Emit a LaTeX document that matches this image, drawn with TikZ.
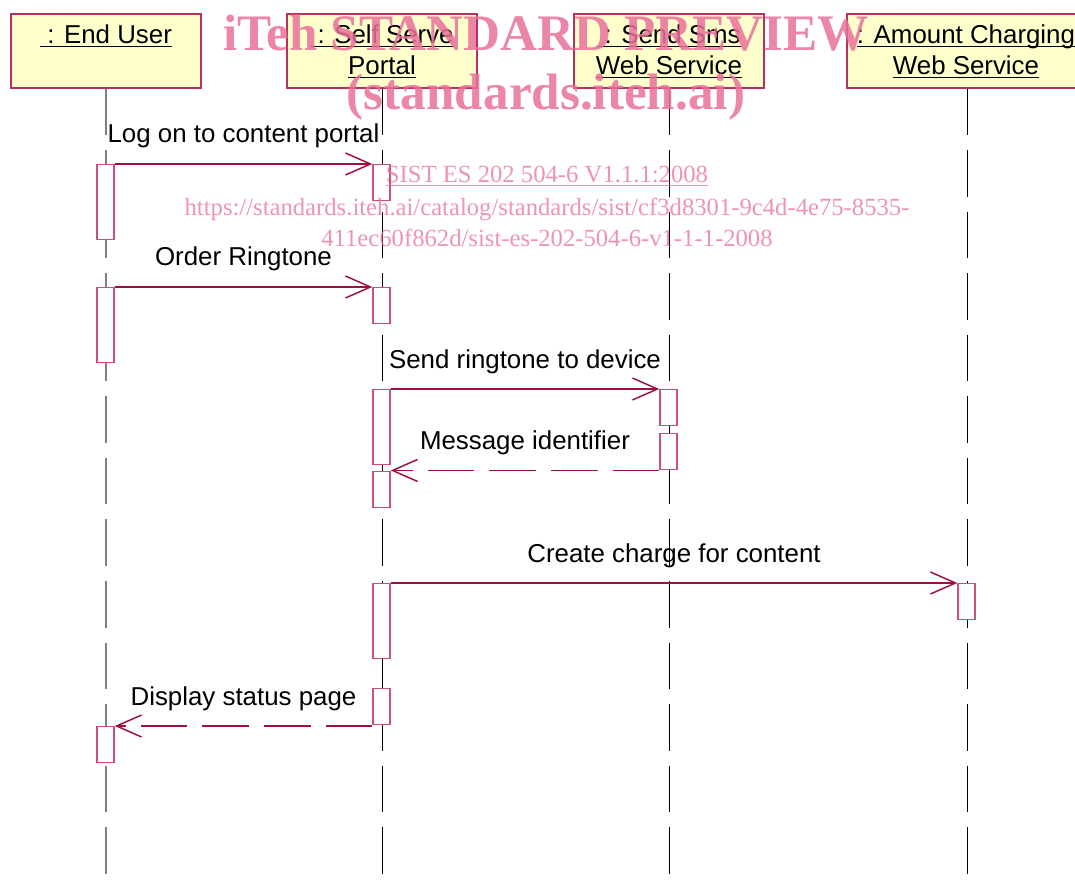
\documentclass[tikz,border=0pt]{standalone}
\usepackage{fontspec}
\setmainfont{Liberation Sans}
\newfontfamily\wmfont{Liberation Serif}
\usetikzlibrary{arrows.meta}

\definecolor{boxfill}{HTML}{FFFFCC}
\definecolor{boxline}{HTML}{B83060}
\definecolor{msgline}{HTML}{A0103C}
\definecolor{actline}{HTML}{C8507A}
\definecolor{lifegray}{HTML}{808080}
\definecolor{wmpink}{HTML}{E8709A}

% header names are underlined straight through the descenders
\newcommand\hdul[1]{\underline{\smash{#1}}}

\tikzset{
	every node/.style={font=\fontsize{19.4}{23}\selectfont},
	head/.style={draw=boxline, line width=1.1pt, fill=boxfill, minimum width=142.5pt, minimum height=55.5pt, inner sep=0pt},
	headtxt/.style={anchor=base, inner sep=0pt},
	lifeline/.style={black, line width=0.75pt, dash pattern=on 34.9pt off 11.25pt},
	act/.style={draw=actline, line width=1.1pt, fill=white, anchor=north, minimum width=12.75pt, inner sep=0pt},
	actlong/.style={act, minimum height=55.9pt},
	actshort/.style={act, minimum height=27pt},
	msg/.style={msgline, line width=1.1pt, -{Straight Barb[length=18.75pt, width=16.5pt]}},
	reply/.style={msg, dash pattern=on 35pt off 11.25pt},
	msglabel/.style={midway, anchor=base, yshift=15.75pt, inner sep=0pt, text=black},
	wm/.style={text=wmpink, opacity=0.85, anchor=base, inner sep=0pt},
}

\begin{document}
\begin{tikzpicture}[x=0.75pt, y=-0.75pt]
	\useasboundingbox (0,0) rectangle (1075,888);
	\clip (0,0) rectangle (1075,888);
	\coordinate (floor) at (0,888);

	% objects
	\node[head] (eu) at (106,51) {};
	\node[head] (ss) at (382,51) {};
	\node[head] (sms) at (669,51) {};
	\node[head, minimum width=180pt] (amt) at (967,51) {};

	\node[headtxt] (eutxt) at (106,44) {\hdul{\ : End User}};
	\node[headtxt] (sstxt) at (382,44) {\hdul{\ : Self Serve}};
	\node[headtxt] (sstxtb) at (382,75) {\hdul{Portal}};
	\node[headtxt] (smstxt) at (669,44) {\hdul{\ : Send Sms}};
	\node[headtxt] (smstxtb) at (669,75) {\hdul{Web Service}};
	\node[headtxt] (amttxt) at (966,44) {\hdul{: Amount Charging}};
	\node[headtxt] (amttxtb) at (966,75) {\hdul{Web Service}};

	% lifelines
	\draw[lifeline, lifegray, line width=1.5pt] (eu.south) -- (eu |- floor);
	\draw[lifeline] (ss.south) -- (ss |- floor);
	\draw[lifeline] (sms.south) -- (sms |- floor);
	\draw[lifeline] (amt.south) -- (amt |- floor);

	% activations
	\node[actlong] (eu1) at (105.5,164) {};
	\node[actshort] (ss1) at (381.5,164) {};
	\node[actlong] (eu2) at (105.5,287) {};
	\node[actshort] (ss2) at (381.5,287) {};
	\node[actlong] (ss3) at (381.5,389) {};
	\node[actshort] (sms1) at (668.5,389) {};
	\node[actshort] (sms2) at (668.5,433) {};
	\node[actshort] (ss4) at (381.5,471) {};
	\node[actlong] (ss5) at (381.5,583) {};
	\node[actshort] (amt1) at (966.5,583) {};
	\node[actshort] (ss6) at (381.5,688) {};
	\node[actshort] (eu3) at (105.5,726) {};

	% messages
	\draw[msg] (eu1.north east) -- (ss1.north west) node[msglabel] {Log on to content portal};
	\draw[msg] (eu2.north east) -- (ss2.north west) node[msglabel] {Order Ringtone};
	\draw[msg] (ss3.north east) -- (sms1.north west) node[msglabel] {Send ringtone to device};
	\draw[reply] (sms2.south west) -- (sms2.south west -| ss4.east) node[msglabel] {Message identifier};
	\draw[msg] (ss5.north east) -- (amt1.north west) node[msglabel] {Create charge for content};
	\draw[reply] (eu3.north -| ss6.west) -- (eu3.north east) node[msglabel] {Display status page};

	% stamp
	\node[wm, font=\wmfont\bfseries\fontsize{38.4}{40}\selectfont] (wmtitle) at (546,51) {iTeh STANDARD PREVIEW};
	\node[wm, font=\wmfont\bfseries\fontsize{38.4}{40}\selectfont] (wmsite) at (546,110) {(standards.iteh.ai)};
	\node[wm, opacity=0.75, font=\wmfont\fontsize{18.5}{20}\selectfont] (wmcode) at (547,183) {\underline{SIST ES 202 504-6 V1.1.1:2008}};
	\node[wm, opacity=0.75, font=\wmfont\fontsize{18.5}{20}\selectfont] (wmurl) at (547,215) {https://standards.iteh.ai/catalog/standards/sist/cf3d8301-9c4d-4e75-8535-};
	\node[wm, opacity=0.75, font=\wmfont\fontsize{18.5}{20}\selectfont] (wmurlb) at (547,247) {411ec60f862d/sist-es-202-504-6-v1-1-1-2008};
\end{tikzpicture}
\end{document}
